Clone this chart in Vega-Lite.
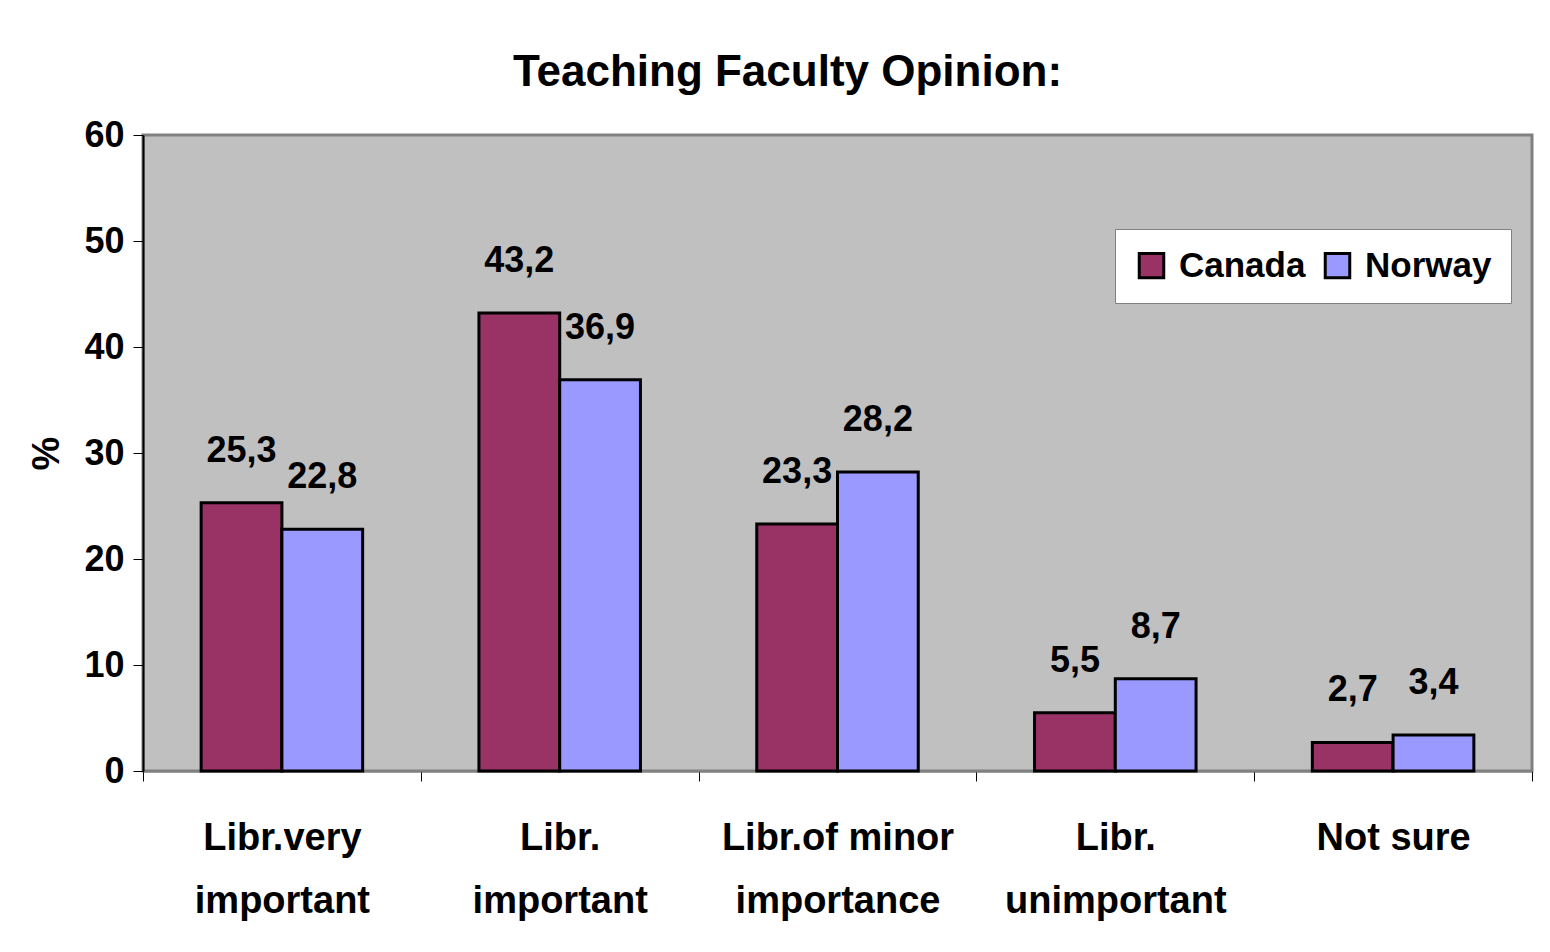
{
  "$schema": "https://vega.github.io/schema/vega-lite/v6.json",
  "width": 1389,
  "height": 636,
  "autosize": {"type": "none"},
  "padding": {"left": 143, "top": 135, "right": 18, "bottom": 181},
  "background": "white",
  "title": {
    "text": "Teaching Faculty Opinion:",
    "fontSize": 44,
    "font": "Liberation Sans, Arial, sans-serif",
    "fontWeight": "bold",
    "anchor": "middle",
    "frame": "group",
    "dx": -50,
    "offset": -13,
    "baseline": "alphabetic",
    "color": "black"
  },
  "data": {
    "values": [
      {"category": "Libr.very important", "country": "Canada", "value": 25.3},
      {"category": "Libr.very important", "country": "Norway", "value": 22.8},
      {"category": "Libr. important", "country": "Canada", "value": 43.2},
      {"category": "Libr. important", "country": "Norway", "value": 36.9},
      {"category": "Libr.of minor importance", "country": "Canada", "value": 23.3},
      {"category": "Libr.of minor importance", "country": "Norway", "value": 28.2},
      {"category": "Libr. unimportant", "country": "Canada", "value": 5.5},
      {"category": "Libr. unimportant", "country": "Norway", "value": 8.7},
      {"category": "Not sure", "country": "Canada", "value": 2.7},
      {"category": "Not sure", "country": "Norway", "value": 3.4}
    ]
  },
  "encoding": {
    "x": {
      "field": "category",
      "type": "nominal",
      "sort": null,
      "scale": {"paddingInner": 0, "paddingOuter": 0},
      "axis": {
        "title": null,
        "labelAngle": 0,
        "labelFontSize": 38,
        "labelFont": "Liberation Sans, Arial, sans-serif",
        "labelFontWeight": "bold",
        "labelColor": "black",
        "labelLineHeight": 63,
        "labelPadding": 38,
        "labelLimit": 500,
        "labelExpr": "datum.label == 'Not sure' ? datum.label : [substring(datum.label, 0, lastindexof(datum.label, ' ')), substring(datum.label, lastindexof(datum.label, ' ') + 1)]",
        "tickBand": "extent",
        "tickSize": 10,
        "tickColor": "black",
        "tickWidth": 1,
        "domainColor": "#808080",
        "domainWidth": 2,
        "grid": false
      }
    },
    "xOffset": {
      "field": "country",
      "type": "nominal",
      "scale": {"paddingInner": 0, "paddingOuter": 0.72}
    },
    "y": {
      "field": "value",
      "type": "quantitative",
      "scale": {"domain": [0, 60], "nice": false},
      "axis": {
        "values": [0, 10, 20, 30, 40, 50, 60],
        "title": "%",
        "titleFontSize": 38,
        "titleFont": "Liberation Sans, Arial, sans-serif",
        "titleFontWeight": "bold",
        "titleColor": "black",
        "titlePadding": 17,
        "labelFontSize": 36,
        "labelFont": "Liberation Sans, Arial, sans-serif",
        "labelFontWeight": "bold",
        "labelColor": "black",
        "labelPadding": 9,
        "tickSize": 10,
        "tickColor": "black",
        "domainColor": "black",
        "domainWidth": 2,
        "grid": false
      }
    }
  },
  "layer": [
    {
      "mark": {"type": "bar", "stroke": "black", "strokeWidth": 3},
      "encoding": {
        "color": {
          "field": "country",
          "type": "nominal",
          "scale": {"domain": ["Canada", "Norway"], "range": ["#993366", "#9999FF"]},
          "legend": {
            "title": null,
            "orient": "none",
            "legendX": 972,
            "legendY": 94,
            "direction": "horizontal",
            "fillColor": "white",
            "strokeColor": "#808080",
            "padding": 19,
            "symbolType": "square",
            "symbolSize": 600,
            "symbolStrokeColor": "black",
            "symbolStrokeWidth": 3,
            "symbolOpacity": 1,
            "labelFontSize": 35,
            "labelFont": "Liberation Sans, Arial, sans-serif",
            "labelFontWeight": "bold",
            "labelColor": "black",
            "labelOffset": 10,
            "columnPadding": 13
          }
        }
      }
    },
    {
      "mark": {
        "type": "text",
        "baseline": "alphabetic",
        "dy": -41,
        "fontSize": 36,
        "font": "Liberation Sans, Arial, sans-serif",
        "fontWeight": "bold",
        "color": "black"
      },
      "encoding": {
        "text": {"field": "value", "type": "quantitative", "format": ".1f"}
      }
    }
  ],
  "config": {
    "locale": {
      "number": {"decimal": ",", "thousands": ".", "grouping": [3], "currency": ["", "€"]}
    },
    "view": {"fill": "#C0C0C0", "stroke": "#808080", "strokeWidth": 3}
  }
}
